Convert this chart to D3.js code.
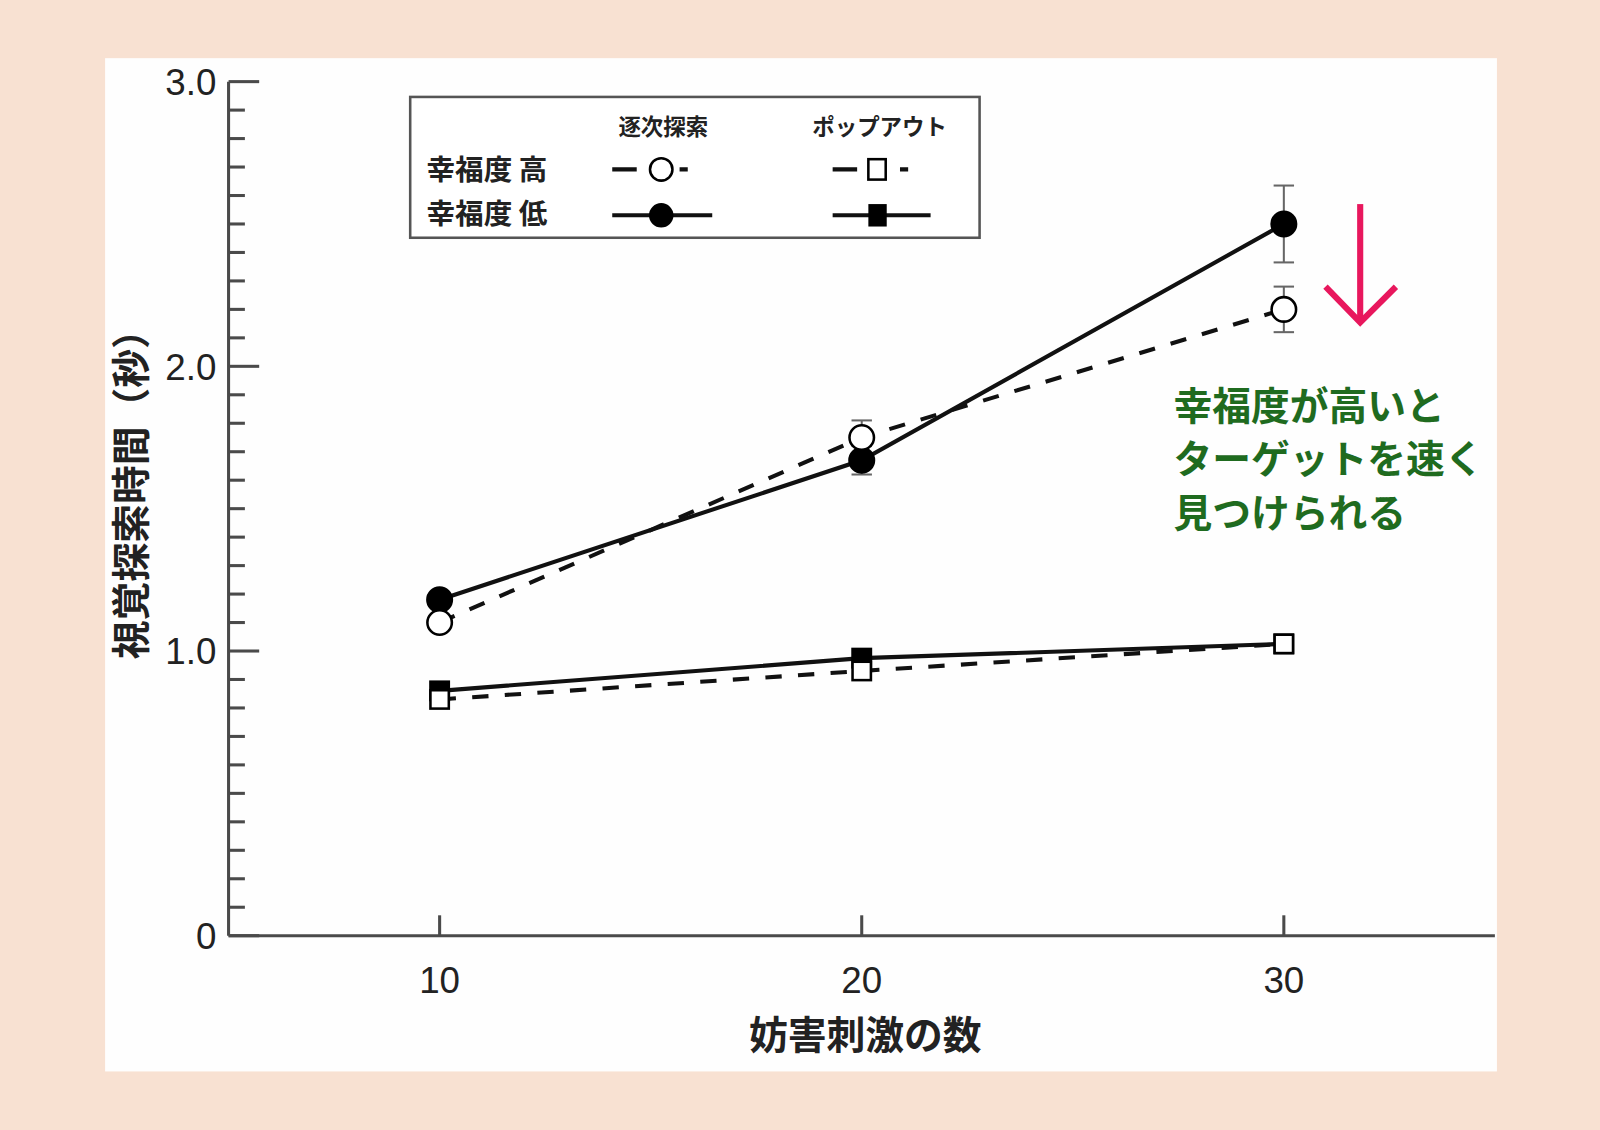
<!DOCTYPE html>
<html><head><meta charset="utf-8">
<script src="https://cdn.jsdelivr.net/npm/d3@7/dist/d3.min.js"></script>
<style>body{margin:0;background:#f8e1d2}svg{display:block}text{font-family:"Noto Sans CJK JP","Noto Sans",sans-serif}</style>
</head><body><svg id="c" width="1600" height="1130"></svg>
<script>
const distractors = [10, 20, 30];
const serialHigh = [1.10, 1.75, 2.20];
const serialHighErr = [0.02, 0.06, 0.08];
const serialLow = [1.18, 1.67, 2.50];
const serialLowErr = [0.02, 0.05, 0.135];
const popoutHigh = [0.83, 0.93, 1.025];
const popoutLow = [0.86, 0.975, 1.025];
const yTickLabels = ["0", "1.0", "2.0", "3.0"];

const root = d3.select("#c");
root.append("rect").attr("x",0).attr("y",0).attr("width",1600).attr("height",1130).attr("fill","#f8e1d2");
const svg = root.append("g").attr("transform","scale(1.0204)");
svg.append("rect").attr("x",103).attr("y",57).attr("width",1364).attr("height",993).attr("fill","#fefefe");

const x = d3.scaleLinear().domain([5,35]).range([224,1465]);
const y = d3.scaleLinear().domain([0,3]).range([917,80]);
const axc = "#4a4a4a";

const gy = svg.append("g");
gy.append("line").attr("x1",224).attr("x2",224).attr("y1",y(3)).attr("y2",y(0)).attr("stroke",axc).attr("stroke-width",3);
d3.range(0,31).forEach(i=>{
  const v=i/10, major=i%10===0;
  gy.append("line").attr("x1",224).attr("x2",224+(major?30:16)).attr("y1",y(v)).attr("y2",y(v)).attr("stroke",axc).attr("stroke-width",3);
});
yTickLabels.forEach((t,i)=>{
  gy.append("text").attr("x",212).attr("y",y(i)+13).attr("text-anchor","end").attr("font-size",36).attr("fill","#222").style("font-family","Liberation Sans, Arial").text(t);
});
svg.append("line").attr("x1",224).attr("x2",1465).attr("y1",917).attr("y2",917).attr("stroke",axc).attr("stroke-width",3);
distractors.forEach(d=>{
  svg.append("line").attr("x1",x(d)).attr("x2",x(d)).attr("y1",917).attr("y2",897).attr("stroke",axc).attr("stroke-width",3);
  svg.append("text").attr("x",x(d)).attr("y",973).attr("text-anchor","middle").attr("font-size",36).attr("fill","#222").style("font-family","Liberation Sans, Arial").text(d);
});
svg.append("text").attr("x",848).attr("y",1028).attr("text-anchor","middle").attr("font-size",38).attr("font-weight","bold").attr("fill","#222").text("妨害刺激の数");
svg.append("text").attr("transform","translate(142,475) rotate(-90)").attr("text-anchor","middle").attr("font-size",38).attr("font-weight","bold").attr("fill","#222").text("視覚探索時間（秒）");

const line = d3.line().x((d,i)=>x(distractors[i])).y(d=>y(d));
function series(vals, dashed){
  svg.append("path").attr("d",line(vals)).attr("fill","none").attr("stroke","#111").attr("stroke-width",4).attr("stroke-dasharray",dashed?"16,16":null);
}
function errs(vals, e){
  vals.forEach((v,i)=>{
    const cx=x(distractors[i]);
    const g=svg.append("g").attr("stroke","#666").attr("stroke-width",2);
    g.append("line").attr("x1",cx).attr("x2",cx).attr("y1",y(v+e[i])).attr("y2",y(v-e[i]));
    g.append("line").attr("x1",cx-10).attr("x2",cx+10).attr("y1",y(v+e[i])).attr("y2",y(v+e[i]));
    g.append("line").attr("x1",cx-10).attr("x2",cx+10).attr("y1",y(v-e[i])).attr("y2",y(v-e[i]));
  });
}
function circles(vals, filled){
  vals.forEach((v,i)=>svg.append("circle").attr("cx",x(distractors[i])).attr("cy",y(v)).attr("r",12).attr("fill",filled?"#000":"#fff").attr("stroke","#000").attr("stroke-width",2.5));
}
function squares(vals, filled){
  vals.forEach((v,i)=>svg.append("rect").attr("x",x(distractors[i])-9).attr("y",y(v)-9).attr("width",18).attr("height",18).attr("fill",filled?"#000":"#fff").attr("stroke","#000").attr("stroke-width",2.5));
}
errs(serialHigh, serialHighErr); errs(serialLow, serialLowErr);
series(popoutHigh,true); series(popoutLow,false);
series(serialHigh,true); series(serialLow,false);
squares(popoutLow,true); squares(popoutHigh,false);
circles(serialLow,true); circles(serialHigh,false);

const lg=svg.append("g");
lg.append("rect").attr("x",402).attr("y",95).attr("width",558).attr("height",138).attr("fill","#fff").attr("stroke","#555").attr("stroke-width",2.5);
lg.append("text").attr("x",650).attr("y",132).attr("text-anchor","middle").attr("font-size",22).attr("font-weight","bold").attr("fill","#222").text("逐次探索");
lg.append("text").attr("x",862).attr("y",132).attr("text-anchor","middle").attr("font-size",22).attr("font-weight","bold").attr("fill","#222").text("ポップアウト");
lg.append("text").attr("x",418).attr("y",176).attr("font-size",28).attr("font-weight","bold").attr("fill","#222").text("幸福度 高");
lg.append("text").attr("x",418).attr("y",220).attr("font-size",28).attr("font-weight","bold").attr("fill","#222").text("幸福度 低");
function legLine(x1,x2,yy,dashed){
  lg.append("line").attr("x1",x1).attr("x2",x2).attr("y1",yy).attr("y2",yy).attr("stroke","#111").attr("stroke-width",4).attr("stroke-dasharray",dashed?"24,14,8,20,8,60":null);
}
legLine(600,700,166,true); legLine(600,698,211,false);
legLine(816,912,166,true); legLine(816,912,211,false);
lg.append("circle").attr("cx",648).attr("cy",166).attr("r",11).attr("fill","#fff").attr("stroke","#000").attr("stroke-width",2.5);
lg.append("circle").attr("cx",648).attr("cy",211).attr("r",12).attr("fill","#000");
lg.append("rect").attr("x",851).attr("y",156).attr("width",17).attr("height",20).attr("fill","#fff").attr("stroke","#000").attr("stroke-width",2.5);
lg.append("rect").attr("x",851).attr("y",200).attr("width",18).attr("height",22).attr("fill","#000");

const pink="#e8175d";
svg.append("line").attr("x1",1333).attr("x2",1333).attr("y1",200).attr("y2",316).attr("stroke",pink).attr("stroke-width",6);
svg.append("path").attr("d","M1299,281 L1333,316 L1368,281").attr("fill","none").attr("stroke",pink).attr("stroke-width",6);
const green="#1f6b1f";
["幸福度が高いと","ターゲットを速く","見つけられる"].forEach((t,i)=>{
  svg.append("text").attr("x",1150).attr("y",412+i*52).attr("font-size",38).attr("font-weight","bold").attr("fill",green).text(t);
});
</script></body></html>
